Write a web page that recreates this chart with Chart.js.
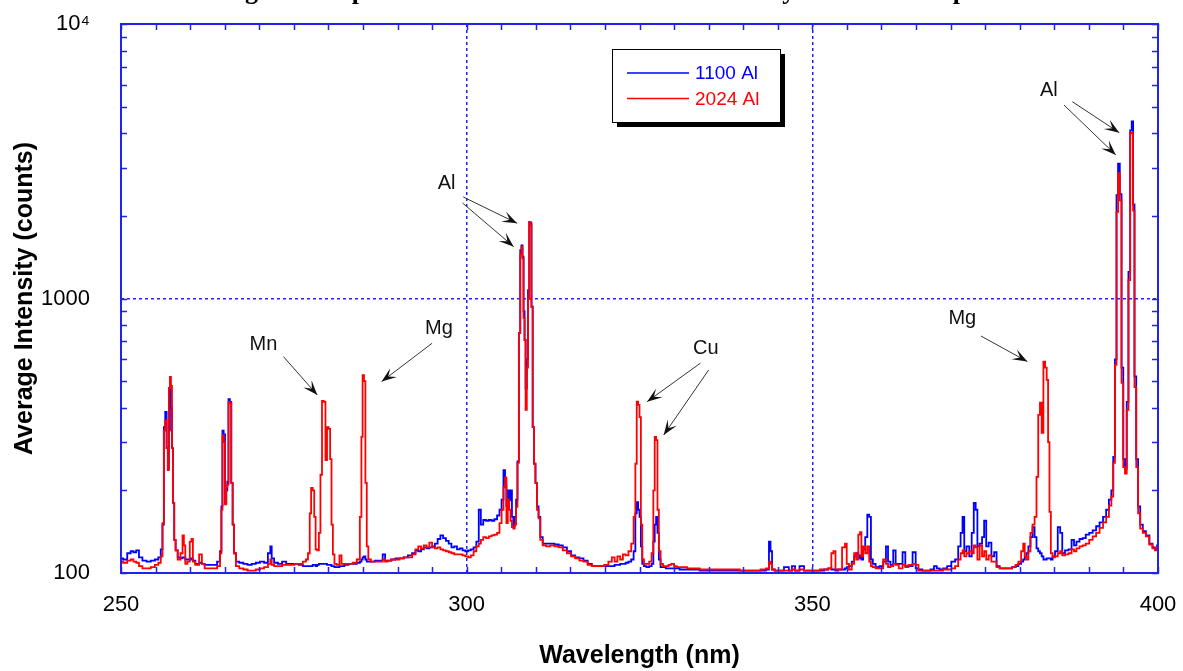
<!DOCTYPE html>
<html><head><meta charset="utf-8">
<script src="https://cdn.jsdelivr.net/npm/chart.js@4.4.0/dist/chart.umd.min.js"></script>
<style>html,body{margin:0;padding:0;background:#fff}#wrap{width:1183px;height:671px}</style>
</head><body><div id="wrap"><canvas id="c" width="1183" height="671"></canvas></div>
<script>
// ---------------- data ----------------
const wavelengths = [
250.0,250.6,251.2,251.6,252.0,252.4,252.8,253.4,254.0,254.6,
255.2,255.6,255.9,256.1,256.3,256.5,256.7,256.85,257.0,257.15,
257.3,257.45,257.6,257.8,258.0,258.4,258.8,259.0,259.2,259.4,
259.8,260.1,260.3,260.5,261.0,261.6,261.8,262.4,263.0,263.6,
264.2,264.45,264.6,264.75,264.95,265.15,265.3,265.45,265.65,265.85,
266.05,266.25,266.45,266.8,267.4,268.0,268.6,269.2,269.8,270.4,
271.0,271.5,271.7,271.9,272.4,273.0,273.6,274.2,274.8,275.4,
276.0,276.6,276.9,277.2,277.4,277.6,277.85,278.05,278.25,278.5,
278.75,278.95,279.2,279.45,279.7,279.9,280.15,280.35,280.55,280.75,
281.0,281.4,281.8,282.0,282.6,283.2,283.8,284.4,284.7,284.85,
285.05,285.25,285.45,285.65,285.9,286.4,287.0,287.6,288.1,288.3,
288.8,289.4,290.0,290.6,291.2,291.8,292.4,292.8,293.2,293.6,
294.0,294.4,294.8,295.2,295.6,296.0,296.4,296.8,297.2,297.6,
298.0,298.4,298.8,299.2,299.6,300.0,300.4,300.8,301.2,301.6,
301.9,302.2,302.6,303.0,303.4,303.8,304.2,304.6,304.9,305.2,
305.45,305.65,305.85,306.05,306.25,306.45,306.65,306.85,307.05,307.25,
307.45,307.65,307.85,308.0,308.15,308.3,308.45,308.6,308.8,308.95,
309.15,309.3,309.45,309.65,309.85,310.05,310.3,310.5,310.8,311.2,
311.8,312.4,313.0,313.6,314.2,314.8,315.4,316.0,316.6,317.2,
317.8,318.4,319.0,319.6,320.2,320.8,321.2,321.6,322.0,322.4,
322.8,323.2,323.6,324.0,324.3,324.5,324.7,324.9,325.1,325.3,
325.5,325.8,326.2,326.6,326.9,327.1,327.3,327.5,327.7,327.9,
328.2,328.6,329.0,329.4,329.8,330.2,330.6,331.0,331.6,332.2,
332.8,333.4,334.0,334.6,335.2,336.0,337.0,338.0,339.0,340.0,
341.0,342.0,343.0,343.6,343.85,344.05,344.3,344.8,345.4,346.4,
346.8,347.3,347.7,348.6,349.0,349.6,350.2,350.8,351.4,352.0,
352.6,352.9,353.2,353.5,354.0,354.6,354.85,355.1,355.5,355.9,
356.2,356.5,356.8,357.0,357.2,357.5,357.8,358.1,358.35,358.6,
358.9,359.4,360.0,360.5,360.8,361.1,361.5,361.9,362.2,362.8,
363.3,363.6,364.2,364.8,365.1,365.6,366.2,366.8,367.4,367.8,
368.2,368.6,369.2,369.8,370.4,370.9,371.3,371.6,371.85,372.1,
372.5,372.9,373.2,373.5,373.75,374.0,374.4,374.7,375.0,375.3,
375.7,376.1,376.5,376.8,377.4,378.0,378.6,379.2,379.6,380.0,
380.4,380.6,380.85,381.1,381.4,381.7,382.0,382.3,382.55,382.8,
383.05,383.3,383.55,383.8,384.0,384.2,384.4,384.6,384.9,385.3,
385.7,386.0,386.3,386.8,387.3,387.7,388.0,388.4,388.9,389.3,
389.8,390.3,390.8,391.3,391.8,392.3,392.7,393.1,393.4,393.65,
393.9,394.1,394.35,394.6,394.85,395.1,395.35,395.6,395.85,396.1,
396.3,396.5,396.7,397.0,397.25,397.6,398.0,398.5,399.0,399.4,
399.7,400.0];

const al1100 = [
113,112,118,120,119,121,114,111,110,111,
112,114,122,150,340,386,285,240,330,470,
400,285,180,132,121,114,113,114,114,112,
112,113,112,111,108,109,108,107,107,107,
110,120,175,330,320,180,200,215,430,420,
213,150,118,110,109,108,107,108,109,110,
109,118,125,113,109,108,110,108,108,108,
107,106,106,106,106,106,107,107,106,107,
108,108,108,108,108,107,107,107,106,106,
105,105,106,106,107,108,108,109,110,112,
114,115,112,110,110,110,111,111,117,111,
111,112,113,113,114,116,118,121,120,122,
124,123,124,125,128,133,137,134,131,128,
124,125,122,123,121,120,121,122,124,130,
170,150,156,155,156,155,157,162,170,185,
237,210,175,200,184,200,160,148,160,185,
255,750,1500,1560,1420,900,706,470,600,1073,
1900,1880,933,340,250,213,175,160,135,128,
128,128,127,126,124,120,116,114,113,111,
108,106,106,106,106,106,106,107,107,108,
108,109,110,112,120,165,181,170,160,125,
108,106,105,106,108,130,150,160,140,112,
105,105,104,104,104,104,104,103,103,103,
103,103,102,102,102,102,102,102,102,102,
102,102,102,103,130,120,103,102,102,105,
102,106,102,106,102,102,102,102,102,103,
104,103,103,102,103,103,104,105,106,110,
115,118,113,116,112,122,135,163,160,112,
108,105,106,110,125,110,107,121,108,108,
119,106,106,119,104,103,102,102,103,106,
104,103,104,106,110,112,125,140,160,120,
125,115,140,180,170,125,128,135,155,125,
129,115,119,106,104,104,104,105,106,108,
110,112,115,118,125,135,147,135,123,120,
118,115,112,112,113,113,113,112,115,120,
147,140,118,121,122,132,126,130,133,134,
138,140,143,148,153,160,170,185,200,265,
600,2380,3100,2400,560,260,240,420,1250,4100,
4420,2200,520,260,175,150,142,137,128,124,
122,126];

const al2024 = [
110,109,111,112,110,109,106,104,104,105,
107,109,115,152,330,360,285,237,472,518,
480,285,180,132,121,112,118,137,126,108,
110,130,133,110,107,117,108,104,104,104,
106,118,170,318,300,178,205,210,420,415,
213,150,118,106,104,103,102,102,103,104,
105,108,112,107,106,106,107,107,107,108,
108,110,112,118,165,204,200,160,122,121,
140,228,424,420,258,340,335,260,150,117,
108,107,116,108,108,108,109,112,160,313,
526,500,213,125,112,110,110,110,112,110,
111,112,112,113,114,114,117,122,125,123,
126,124,129,124,123,124,122,121,120,119,
118,117,117,117,116,115,114,116,120,125,
128,132,135,134,136,137,138,140,152,170,
205,223,152,185,170,155,147,145,150,174,
252,748,1450,1541,1400,850,706,393,560,1000,
1900,1850,933,340,250,213,170,158,132,126,
125,126,125,124,121,118,115,113,111,110,
107,106,106,106,107,110,114,110,115,112,
117,116,120,128,160,250,421,410,370,150,
112,108,108,110,118,200,313,305,170,120,
108,106,106,107,108,106,105,105,105,104,
104,104,103,103,103,103,103,103,103,102,
102,102,103,104,110,108,103,102,102,102,
102,103,102,103,102,102,102,102,103,103,
104,118,120,103,103,124,128,108,103,108,
118,112,138,141,115,125,118,125,110,106,
105,104,104,112,108,105,106,108,107,104,
107,105,107,108,107,102,102,102,102,102,
102,102,103,103,104,106,112,118,121,115,
118,120,118,126,124,112,126,115,120,112,
116,110,110,105,104,104,104,105,107,110,
120,128,115,112,120,140,150,160,224,377,
417,324,589,560,505,300,167,118,114,115,
118,120,116,117,118,122,120,123,125,126,
128,132,136,140,146,153,160,176,190,252,
573,2070,2860,2280,493,243,230,393,1166,4010,
4000,2090,476,243,165,145,140,136,127,123,
121,125];

const seriesNames = ['1100 Al', '2024 Al'];
const xTickValues = [250, 300, 350, 400];
const xTickLabels = ['250', '300', '350', '400'];
const yTickValues = [100, 1000, 10000];
const yTickLabels = ['100', '1000', '10\u2074'];
const xTitle = 'Wavelength (nm)';
const yTitle = 'Average Intensity (counts)';
const topTitle = 'Average LIBS spectra of 1100 and 2024 aluminum alloy standard samples';

// element labels and their arrows, in data coordinates (wavelength, counts)
const noteText = ['Mn', 'Mg', 'Al', 'Cu', 'Mg', 'Al'];
const noteX = [270.6, 296.0, 297.1, 334.6, 371.7, 384.2];
const noteY = [680, 778, 2624, 655, 849, 5725];
const arrowFromX = [273.5, 295.0, 299.5, 299.4, 333.8, 335.0, 374.4, 387.6, 386.4];
const arrowFromY = [614, 687, 2344, 2228, 581, 549, 730, 5212, 5069];
const arrowToX = [278.4, 287.7, 307.3, 306.8, 326.1, 328.5, 381.1, 394.4, 393.9];
const arrowToY = [445, 498, 1879, 1545, 421, 318, 589, 4018, 3334];

// ---------------- chart ----------------
const AXIS = '#2222f0';
const toPts = arr => wavelengths.map((w, i) => ({x: w, y: arr[i]}));

const framePlugin = {
  id: 'frame',
  afterDraw(chart) {
    const {ctx, chartArea: a, scales: {x, y}} = chart;
    ctx.save();
    ctx.strokeStyle = AXIS;
    ctx.lineWidth = 1.5;
    ctx.beginPath();
    for (let v = 250; v <= 400; v += 5) {
      const px = Math.round(x.getPixelForValue(v)) + 0.5;
      ctx.moveTo(px, a.bottom); ctx.lineTo(px, a.bottom - 6);
      ctx.moveTo(px, a.top); ctx.lineTo(px, a.top + 6);
    }
    for (const d of [100, 1000]) {
      for (let m = 1; m <= 10; m++) {
        const py = Math.round(y.getPixelForValue(d * m)) + 0.5;
        ctx.moveTo(a.left, py); ctx.lineTo(a.left + 6, py);
        ctx.moveTo(a.right, py); ctx.lineTo(a.right - 6, py);
      }
    }
    ctx.stroke();
    ctx.lineWidth = 2;
    ctx.strokeRect(a.left, a.top, a.right - a.left, a.bottom - a.top);
    ctx.restore();
  }
};

const titlePlugin = {
  id: 'cliptitle',
  afterDraw(chart) {
    const ctx = chart.ctx;
    ctx.save();
    ctx.font = 'bold 26px "Liberation Serif", "Times New Roman", serif';
    ctx.fillStyle = '#000';
    ctx.textAlign = 'left';
    ctx.textBaseline = 'alphabetic';
    ctx.fillText(topTitle, 179, -1);
    ctx.restore();
  }
};

const legendPlugin = {
  id: 'boxlegend',
  afterDraw(chart) {
    const {ctx, chartArea: a} = chart;
    const bx = a.left + 491, by = a.top + 25, bw = 168, bh = 73;
    ctx.save();
    ctx.fillStyle = '#000';
    ctx.fillRect(bx + 5, by + 5, bw, bh);
    ctx.fillStyle = '#fff';
    ctx.fillRect(bx, by, bw, bh);
    ctx.strokeStyle = '#000';
    ctx.lineWidth = 1;
    ctx.strokeRect(bx + 0.5, by + 0.5, bw, bh);
    ctx.font = '19px "Liberation Sans", Arial, sans-serif';
    ctx.textBaseline = 'middle';
    chart.data.datasets.forEach((ds, i) => {
      const ly = by + 24 + i * 25.5;
      ctx.strokeStyle = ds.borderColor;
      ctx.lineWidth = 1.6;
      ctx.beginPath(); ctx.moveTo(bx + 15, ly); ctx.lineTo(bx + 77, ly); ctx.stroke();
      ctx.fillStyle = ds.borderColor;
      ctx.fillText(ds.label, bx + 83, ly + 1);
    });
    ctx.restore();
  }
};

function drawArrow(ctx, x1, y1, x2, y2) {
  ctx.strokeStyle = '#333';
  ctx.lineWidth = 1;
  ctx.beginPath(); ctx.moveTo(x1, y1); ctx.lineTo(x2, y2); ctx.stroke();
  const ang = Math.atan2(y2 - y1, x2 - x1);
  const ux = Math.cos(ang), uy = Math.sin(ang), nx = -uy, ny = ux;
  const L = 15, W = 5.5;
  ctx.fillStyle = '#111';
  ctx.beginPath();
  ctx.moveTo(x2, y2);
  ctx.lineTo(x2 - L * ux + W * nx, y2 - L * uy + W * ny);
  ctx.lineTo(x2 - 0.55 * L * ux, y2 - 0.55 * L * uy);
  ctx.lineTo(x2 - L * ux - W * nx, y2 - L * uy - W * ny);
  ctx.closePath();
  ctx.fill();
}

const notePlugin = {
  id: 'notes',
  afterDraw(chart) {
    const {ctx, scales: {x, y}} = chart;
    ctx.save();
    ctx.font = '20px "Liberation Sans", Arial, sans-serif';
    ctx.fillStyle = '#111';
    ctx.textAlign = 'center';
    ctx.textBaseline = 'middle';
    noteText.forEach((t, i) => ctx.fillText(t, x.getPixelForValue(noteX[i]), y.getPixelForValue(noteY[i])));
    arrowFromX.forEach((v, i) => drawArrow(ctx,
      x.getPixelForValue(v), y.getPixelForValue(arrowFromY[i]),
      x.getPixelForValue(arrowToX[i]), y.getPixelForValue(arrowToY[i])));
    ctx.restore();
  }
};

new Chart(document.getElementById('c'), {
  type: 'line',
  data: {
    datasets: [
      {label: seriesNames[0], data: toPts(al1100), borderColor: '#0000ff', borderWidth: 1.8,
       pointRadius: 0, stepped: 'middle', fill: false, order: 2},
      {label: seriesNames[1], data: toPts(al2024), borderColor: '#ff0000', borderWidth: 1.8,
       pointRadius: 0, stepped: 'middle', fill: false, order: 1}
    ]
  },
  options: {
    responsive: false,
    animation: false,
    devicePixelRatio: 1,
    layout: {padding: {top: 24, right: 25, left: 0, bottom: 0}},
    plugins: {legend: {display: false}, tooltip: {enabled: false}, title: {display: false}},
    scales: {
      x: {
        type: 'linear', min: 250, max: 400,
        afterBuildTicks: s => { s.ticks = xTickValues.map(v => ({value: v})); },
        afterFit: s => { s.height = 98; s.paddingLeft = 0; s.paddingRight = 0; },
        ticks: {autoSkip: false, maxRotation: 0, padding: 19, color: '#000',
          font: {family: '"Liberation Sans", Arial, sans-serif', size: 22},
          callback: (v, i) => xTickLabels[i]},
        grid: {drawTicks: false, lineWidth: 1.5,
          color: c => (c.tick && (c.tick.value === 300 || c.tick.value === 350)) ? AXIS : 'rgba(0,0,0,0)'},
        border: {display: false, dash: [3, 3]},
        title: {display: true, text: xTitle, color: '#000', padding: {top: 0, bottom: 0},
          font: {family: '"Liberation Sans", Arial, sans-serif', size: 25, weight: 'bold'}}
      },
      y: {
        type: 'logarithmic', min: 100, max: 10000,
        afterBuildTicks: s => { s.ticks = yTickValues.map(v => ({value: v})); },
        afterFit: s => { s.width = 121; s.paddingTop = 0; s.paddingBottom = 0; },
        ticks: {autoSkip: false, padding: 31, color: '#000',
          font: {family: '"Liberation Sans", Arial, sans-serif', size: 22},
          callback: (v, i) => yTickLabels[i]},
        grid: {drawTicks: false, lineWidth: 1.5,
          color: c => (c.tick && c.tick.value === 1000) ? AXIS : 'rgba(0,0,0,0)'},
        border: {display: false, dash: [3, 3]},
        title: {display: true, text: yTitle, color: '#000', padding: {top: 10, bottom: 0},
          font: {family: '"Liberation Sans", Arial, sans-serif', size: 25, weight: 'bold'}}
      }
    }
  },
  plugins: [framePlugin, titlePlugin, legendPlugin, notePlugin]
});
</script>
</body></html>
